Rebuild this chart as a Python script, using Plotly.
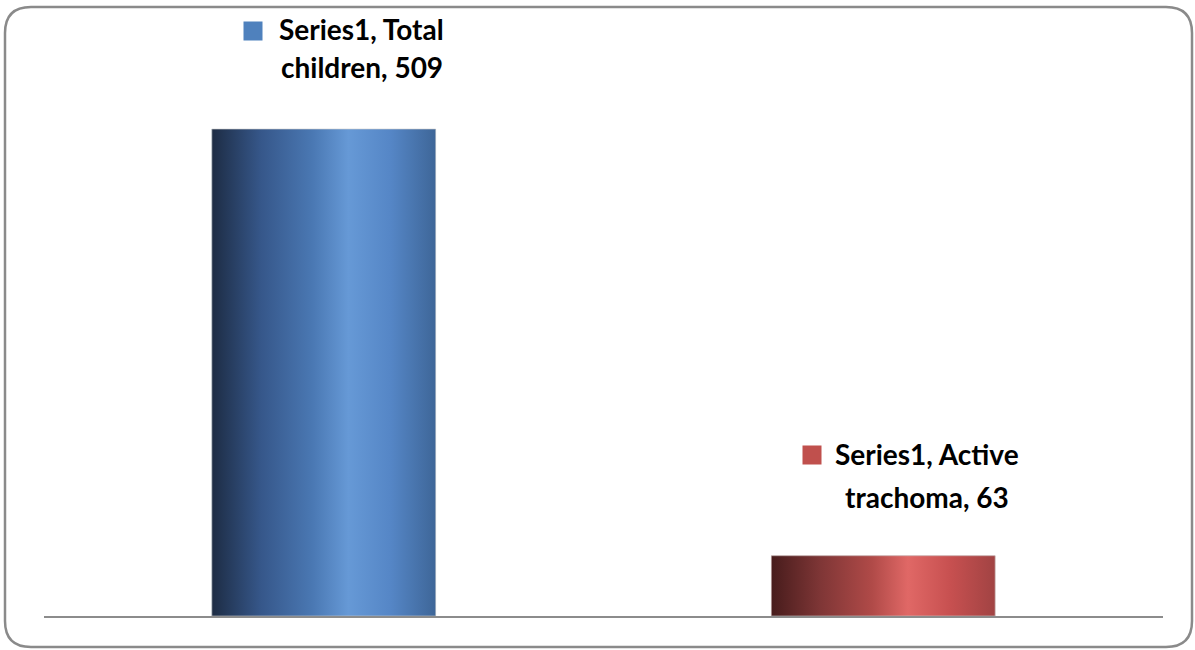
import plotly.graph_objects as go

categories = ["Total children", "Active trachoma"]
values = [509, 63]
series_name = "Series1"
base_colors = ["#4f81bd", "#c0504d"]
gradients = [
    [[0.0, "#1d2c44"], [0.22, "#36578a"], [0.45, "#4a78b3"], [0.61, "#6699d6"],
     [0.8, "#5586c6"], [1.0, "#3e6698"]],
    [[0.0, "#471c1c"], [0.22, "#7f3636"], [0.45, "#b04a48"], [0.61, "#e06866"],
     [0.8, "#c75050"], [1.0, "#a14343"]],
]

W, H = 1195, 650
L, R, T, B = 44, 32, 42, 34
pw, ph = W - L - R, H - T - B
bar_w = 0.4
ymax = 600

fig = go.Figure()
for i, (cat, v) in enumerate(zip(categories, values)):
    fig.add_trace(go.Bar(x=[i], y=[v], width=bar_w, marker_color=base_colors[i],
                         marker_line_width=0, name=cat, showlegend=False,
                         hovertemplate=f"{series_name}, {cat}, %{{y}}<extra></extra>"))
    x0, x1 = i - bar_w / 2, i + bar_w / 2
    fig.add_trace(go.Scatter(x=[x0, x1, x1, x0, x0], y=[0, 0, v, v, 0], mode="lines",
                             line=dict(width=1, color="rgba(200,200,200,0.6)"),
                             fill="toself",
                             fillgradient=dict(type="horizontal", colorscale=gradients[i]),
                             showlegend=False, hoverinfo="skip"))

label_font = dict(family="Lato, 'Open Sans', sans-serif", size=28, color="#000000")
text_xshift = [38, 44]
line1_yshift = [100, 102]
line2_yshift = [62, 59]
key_yshift = [98, 101]
for i, (cat, v) in enumerate(zip(categories, values)):
    words = cat.split(" ")
    lines = [f"<b>{series_name}, {words[0]}</b>", f"<b>{' '.join(words[1:])}, {v}</b>"]
    for txt, ys in zip(lines, [line1_yshift[i], line2_yshift[i]]):
        fig.add_annotation(x=i, y=v, xref="x", yref="y", text=txt, showarrow=False,
                           xanchor="center", yanchor="middle", xshift=text_xshift[i],
                           yshift=ys, font=label_font, align="center")
    # legend key square
    fig.add_annotation(x=i, y=v, xref="x", yref="y", text="", showarrow=False,
                       width=18, height=18, bgcolor=base_colors[i],
                       xanchor="center", yanchor="middle", xshift=-71,
                       yshift=key_yshift[i], borderpad=0)

def px2paper(px, py):
    return (px - L) / pw, (H - B - py) / ph

# rounded border
x0p, y0p, x1p, y1p, rad = 5, 7, 1192, 647, 26
def P(px, py):
    a, b = px2paper(px, py)
    return f"{a:.5f},{b:.5f}"
path = (f"M {P(x0p + rad, y0p)} L {P(x1p - rad, y0p)} Q {P(x1p, y0p)} {P(x1p, y0p + rad)} "
        f"L {P(x1p, y1p - rad)} Q {P(x1p, y1p)} {P(x1p - rad, y1p)} "
        f"L {P(x0p + rad, y1p)} Q {P(x0p, y1p)} {P(x0p, y1p - rad)} "
        f"L {P(x0p, y0p + rad)} Q {P(x0p, y0p)} {P(x0p + rad, y0p)} Z")
fig.add_shape(type="path", path=path, xref="paper", yref="paper",
              line=dict(color="#8a8a8a", width=2.5), layer="above")

fig.update_layout(
    width=W, height=H, margin=dict(l=L, r=R, t=T, b=B),
    paper_bgcolor="white", plot_bgcolor="white",
    showlegend=False, bargap=0.6,
    xaxis=dict(range=[-0.5, 1.5], showticklabels=False, showgrid=False, zeroline=False,
               showline=True, linecolor="#8c8c8c", linewidth=2, ticks=""),
    yaxis=dict(range=[0, ymax], visible=False, showgrid=False, zeroline=False),
)
fig.write_html("out.html")
